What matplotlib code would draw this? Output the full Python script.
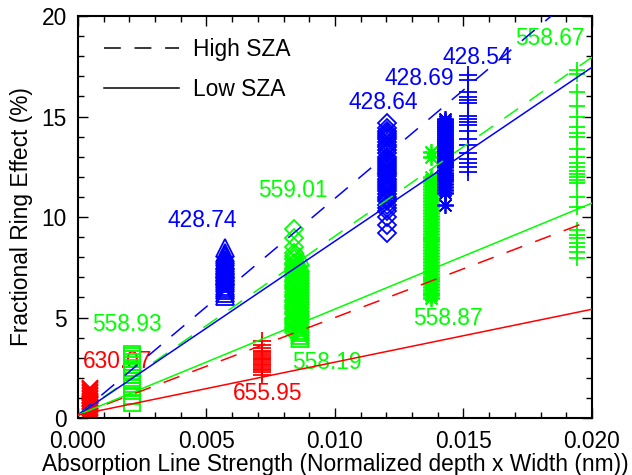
import matplotlib
matplotlib.use('Agg')
import matplotlib.pyplot as plt
from matplotlib.lines import Line2D
from matplotlib.ticker import MultipleLocator, FormatStrFormatter
import numpy as np

# Line strength (x) of each Fraunhofer line
line_names = ['630.07', '558.93', '428.74', '655.95', '559.01', '558.19',
              '428.64', '558.87', '428.69', '428.54', '558.67']
line_strength = [0.00047, 0.00212, 0.00572, 0.00716, 0.00842, 0.00862,
                 0.01203, 0.01373, 0.01428, 0.01518, 0.01942]
line_colors = ['red', 'lime', 'blue', 'red', 'lime', 'lime',
               'blue', 'lime', 'blue', 'blue', 'lime']

# Fractional ring effect (%) for each line, all observations
ring_630_07 = [0.1, 0.2, 0.25, 0.35, 0.4, 0.5, 0.55, 0.65, 0.7, 0.8, 0.85, 0.95, 1.0,
               1.1, 1.15, 1.25, 1.3, 1.4, 1.45, 1.5]
ring_558_93 = [0.75, 1.1, 1.35, 1.5, 1.7, 1.85, 2.0, 2.15, 2.35, 2.5, 2.65, 2.8, 2.95, 3.1, 3.2]
ring_428_74 = [6.05, 6.2, 6.35, 6.45, 6.55, 6.7, 6.8, 6.9, 7.0, 7.05, 7.1, 7.2, 7.25, 7.35,
               7.4, 7.45, 7.55, 7.6, 7.7, 7.8, 7.85, 8.0, 8.1, 8.2, 8.45]
ring_655_95 = [2.15, 2.3, 2.4, 2.45, 2.55, 2.65, 2.7, 2.8, 2.9, 2.95, 3.0, 3.1, 3.2,
               3.3, 3.35, 3.5, 3.65, 3.85]
ring_559_01 = [4.3, 4.45, 4.55, 4.7, 4.8, 4.9, 5.0, 5.15, 5.25, 5.4, 5.5, 5.6, 5.75, 5.85,
               6.0, 6.1, 6.25, 6.4, 6.5, 6.6, 6.75, 6.85, 7.0, 7.1, 7.25, 7.35, 7.45,
               7.6, 7.7, 7.9, 8.05, 8.2, 8.5, 8.95, 9.4]
ring_558_19 = [4.0, 4.15, 4.3, 4.4, 4.55, 4.7, 4.85, 5.0, 5.15, 5.3, 5.45, 5.55, 5.7,
               5.9, 6.05, 6.2, 6.35, 6.5, 6.65, 6.8, 6.95, 7.1, 7.25, 7.4, 7.55, 7.7, 8.0]
ring_428_64 = [9.2, 9.6, 10.0, 10.3, 10.45, 10.6, 10.8, 10.9, 11.0, 11.15, 11.3, 11.4,
               11.5, 11.6, 11.7, 11.8, 11.9, 12.05, 12.15, 12.2, 12.3, 12.4, 12.5, 12.6,
               12.7, 12.8, 12.9, 13.0, 13.2, 13.35, 13.5, 13.6, 13.75, 13.9, 14.0, 14.1,
               14.2, 14.3, 14.45, 14.7]
ring_558_87 = [5.95, 6.1, 6.2, 6.35, 6.5, 6.65, 6.8, 6.9, 7.0, 7.15, 7.3, 7.45, 7.6,
               7.75, 7.9, 8.05, 8.2, 8.35, 8.5, 8.65, 8.8, 8.9, 9.0, 9.15, 9.3, 9.45,
               9.6, 9.75, 9.9, 10.05, 10.2, 10.35, 10.5, 10.65, 10.8, 10.95, 11.1, 11.25,
               11.4, 11.55, 11.7, 11.85, 12.0, 13.0, 13.25]
ring_428_69 = [10.6, 11.2, 11.35, 11.5, 11.65, 11.8, 11.9, 12.0, 12.1, 12.2, 12.35, 12.5,
               12.6, 12.7, 12.8, 12.9, 13.0, 13.1, 13.2, 13.3, 13.4, 13.5, 13.6, 13.7,
               13.8, 13.9, 14.0, 14.1, 14.2, 14.3, 14.4, 14.5, 14.6, 14.7, 14.8, 14.9]
ring_428_54 = [12.25, 12.5, 12.7, 12.9, 13.2, 13.6, 13.9, 14.3, 14.6, 14.75, 14.9,
               15.05, 15.65, 15.8, 15.95, 16.2, 16.8, 17.05]
ring_558_67 = [7.95, 8.25, 8.5, 8.7, 8.95, 9.1, 9.35, 10.5, 11.0, 11.7, 11.85, 12.0,
               12.15, 12.3, 12.5, 12.7, 13.0, 13.4, 14.0, 14.2, 14.5, 15.0, 15.5, 16.2,
               17.1, 17.3]
ring_values = [ring_630_07, ring_558_93, ring_428_74, ring_655_95, ring_559_01, ring_558_19,
               ring_428_64, ring_558_87, ring_428_69, ring_428_54, ring_558_67]

# Linear fits (intercept, slope) for high / low SZA
fit_colors = ['blue', 'lime', 'red']
fit_high_sza = [(0.15, 1078.0), (0.15, 890.0), (0.15, 485.0)]
fit_low_sza = [(0.15, 865.0), (0.15, 527.0), (0.15, 263.0)]

# Styles (IDL symbols)
marker_style = {
    '630.07': dict(marker='x', ms=12),
    '558.93': dict(marker='s', ms=12),
    '428.74': dict(marker='^', ms=13),
    '655.95': dict(marker='+', ms=13),
    '559.01': dict(marker='D', ms=8.8),
    '558.19': dict(marker='^', ms=13),
    '428.64': dict(marker='D', ms=8.8),
    '558.87': dict(marker=(8, 2, 0), ms=12),
    '428.69': dict(marker=(8, 2, 0), ms=12),
    '428.54': dict(marker='+', ms=13),
    '558.67': dict(marker='+', ms=12),
}
label_pos = {
    '630.07': (0.0002, 2.8),
    '558.93': (0.00054, 4.63),
    '428.74': (0.0035, 9.85),
    '655.95': (0.00603, 1.24),
    '559.01': (0.0070, 11.34),
    '558.19': (0.00833, 2.74),
    '428.64': (0.01051, 15.72),
    '428.69': (0.01191, 16.87),
    '428.54': (0.0142, 17.96),
    '558.67': (0.0170, 18.9),
    '558.87': (0.01303, 4.93),
}

FS = 16.4
plt.rcParams['font.family'] = ['Liberation Sans', 'DejaVu Sans']
plt.rcParams['font.size'] = FS

fig = plt.figure(figsize=(6.32, 4.75), dpi=100)
ax = fig.add_axes([0.1234, 0.12, 0.8133, 0.8463])

for name, x, color, ys in zip(line_names, line_strength, line_colors, ring_values):
    st = marker_style[name]
    ax.plot([x] * len(ys), ys, linestyle='none', marker=st['marker'], ms=st['ms'],
            mfc='none', mec=color, mew=1.3, zorder=2)
    lx, ly = label_pos[name]
    ax.text(lx, ly, name, color=color, fontsize=FS, ha='left', va='center', zorder=1)

xfit = np.array([0.0, 0.02])
for color, (a, b) in zip(fit_colors, fit_high_sza):
    ax.plot(xfit, a + b * xfit, color=color, lw=1.1, linestyle=(0, (11, 9)), zorder=3)
for color, (a, b) in zip(fit_colors, fit_low_sza):
    ax.plot(xfit, a + b * xfit, color=color, lw=1.1, zorder=3)

handles = [Line2D([], [], color='black', lw=1.1, linestyle=(0, (11, 9))),
           Line2D([], [], color='black', lw=1.1)]
ax.legend(handles, ['High SZA', 'Low SZA'], loc='upper left', frameon=False,
          handlelength=3.3, handletextpad=0.6, labelspacing=0.75, fontsize=FS,
          borderaxespad=0.3, bbox_to_anchor=(0.02, 0.985))

ax.set_xlim(0, 0.02)
ax.set_ylim(0, 20)
ax.xaxis.set_major_locator(MultipleLocator(0.005))
ax.xaxis.set_minor_locator(MultipleLocator(0.001))
ax.xaxis.set_major_formatter(FormatStrFormatter('%.3f'))
ax.yaxis.set_major_locator(MultipleLocator(5))
ax.yaxis.set_minor_locator(MultipleLocator(1))
ax.tick_params(which='both', direction='in', top=True, right=True, width=1, labelsize=FS)
ax.tick_params(which='major', length=7)
ax.tick_params(which='minor', length=4)
ax.tick_params(axis='x', which='major', pad=9)
ax.tick_params(axis='y', which='major', pad=8)
for sp in ax.spines.values():
    sp.set_linewidth(1.5)

ax.set_xlabel('Absorption Line Strength (Normalized depth x Width (nm))', fontsize=FS, labelpad=0)
ax.set_ylabel('Fractional Ring Effect (%)', fontsize=FS, labelpad=6)

fig.savefig('out.png', dpi=100)
